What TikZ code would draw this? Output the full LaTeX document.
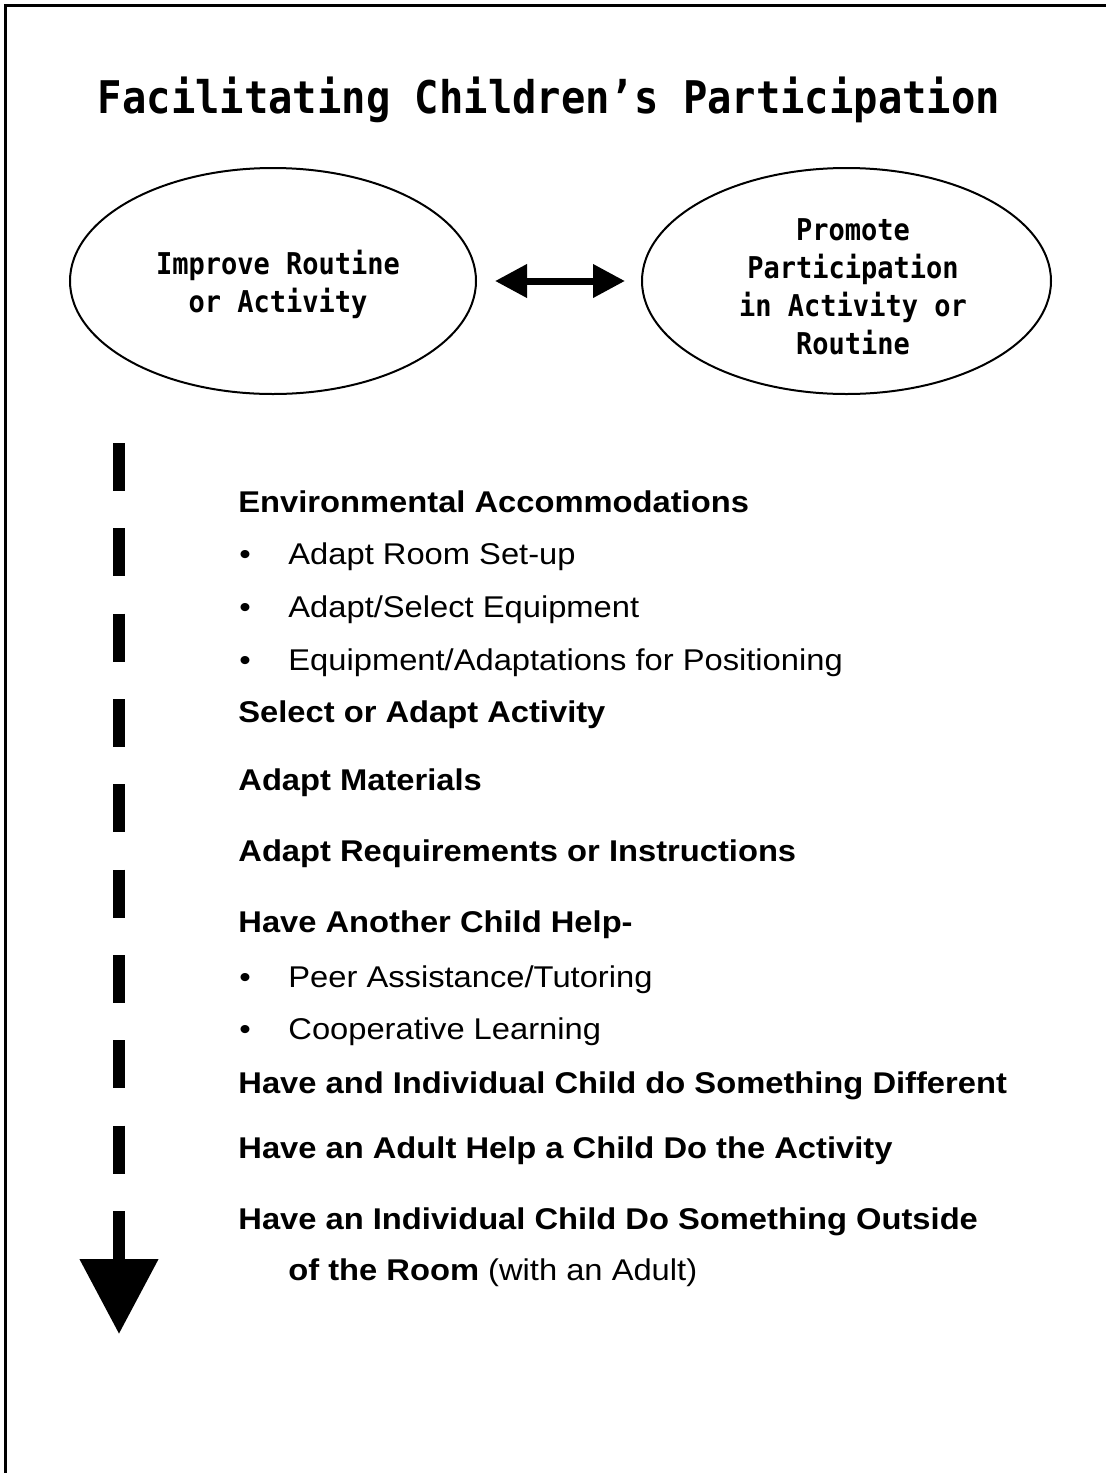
\documentclass[tikz,border=0pt]{standalone}
\usepackage{fontspec}
\setmainfont{Liberation Sans}[FakeStretch=1.09]
\newfontfamily\monofont{DejaVu Sans Mono}[FakeStretch=0.9]
\usetikzlibrary{shapes.geometric,arrows.meta}
\begin{document}
\begin{tikzpicture}[x=0.5pt,y=-0.5pt,
  oval/.style={draw, ellipse, line width=1pt, minimum height=113pt, inner sep=0pt},
  ovaltext/.style={font=\monofont\bfseries\fontsize{15}{19}\selectfont, align=center, inner sep=0pt},
  titletext/.style={font=\monofont\bfseries\fontsize{22.5}{27}\selectfont, anchor=base, inner sep=0pt},
  headtext/.style={anchor=base west, inner sep=0pt, font=\bfseries\fontsize{15}{18}\selectfont},
  itemtext/.style={anchor=base west, inner sep=0pt, font=\fontsize{15}{18}\selectfont},
  dblarrow/.style={line width=3.5pt, {Triangle[length=16pt,width=16pt]}-{Triangle[length=16pt,width=16pt]}},
  downarrow/.style={line width=5.75pt, dash pattern=on 24pt off 18.667pt, -{Triangle[length=37.5pt,width=38pt]}}
]
\useasboundingbox (0,0) rectangle (1106,1473);
% frame
\draw[line width=1.5pt] (5,1473) -- (5,5) -- (1106,5);
% title
\node[titletext] (title) at (549,113) {Facilitating Children’s Participation};
% ellipses
\node[oval, minimum width=203pt] (improve) at (273,281) {};
\node[oval, minimum width=204.5pt] (promote) at (846.5,281) {};
\node[ovaltext] (improvetxt) at (278,284) {Improve Routine\\or Activity};
\node[ovaltext] (promotetxt) at (853,287) {Promote\\Participation\\in Activity or\\Routine};
\draw[dblarrow] ([xshift=9pt]improve.east) -- ([xshift=-8pt]promote.west);
% down arrow
\coordinate (dtop) at (119,443);
\coordinate (dtip) at (119,1334);
\draw[downarrow] (dtop) -- (dtip);
% list
\node[headtext] (env) at (238,512.7) {Environmental Accommodations};
\node[itemtext] (b1) at (239,564) {•};
\node[itemtext] (i1) at (288,564) {Adapt Room Set-up};
\node[itemtext] (b2) at (239,617) {•};
\node[itemtext] (i2) at (288,617) {Adapt/Select Equipment};
\node[itemtext] (b3) at (239,670) {•};
\node[itemtext] (i3) at (288,670) {Equipment/Adaptations for Positioning};
\node[headtext] (sel) at (238,722) {Select or Adapt Activity};
\node[headtext] (mat) at (238,790) {Adapt Materials};
\node[headtext] (req) at (238,861) {Adapt Requirements or Instructions};
\node[headtext] (another) at (238,932) {Have Another Child Help-};
\node[itemtext] (b4) at (239,987) {•};
\node[itemtext] (i4) at (288,987) {Peer Assistance/Tutoring};
\node[itemtext] (b5) at (239,1039) {•};
\node[itemtext] (i5) at (288,1039) {Cooperative Learning};
\node[headtext] (diff) at (238,1093) {Have and Individual Child do Something Different};
\node[headtext] (adult) at (238,1158) {Have an Adult Help a Child Do the Activity};
\node[headtext] (outside) at (238,1229) {Have an Individual Child Do Something Outside};
\node[headtext] (room) at (288,1280) {of the Room {\mdseries\fontsize{15}{18}\selectfont (with an Adult)}};
\end{tikzpicture}
\end{document}
